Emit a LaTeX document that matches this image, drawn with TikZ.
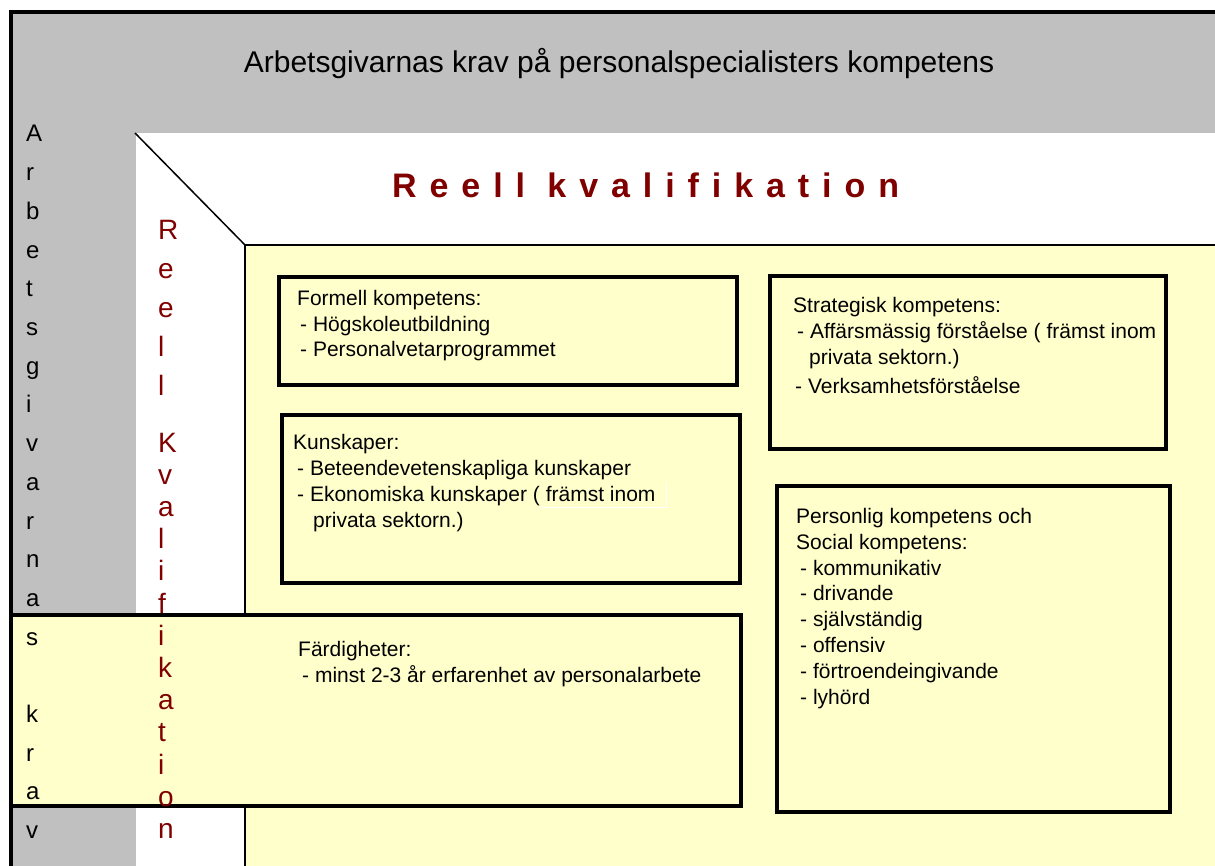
\documentclass[tikz,border=0pt]{standalone}
\usepackage{fontspec}
\setmainfont{Liberation Sans}
\newfontfamily\widefont[LetterSpace=38]{Liberation Sans}
\usepackage{tikz}
\definecolor{band}{HTML}{C0C0C0}
\definecolor{paper}{HTML}{FFFFCC}
\definecolor{wine}{HTML}{800000}
\tikzset{
  frame/.style={draw=black, line width=4.5pt},
  edge/.style={draw=black, line width=2.5pt},
  panel/.style={draw=black, line width=3.5pt, fill=paper},
  txt/.style={anchor=base west, inner sep=0pt, align=left, font=\fontsize{21}{25.8}\selectfont},
  vlet/.style={anchor=base west, inner sep=0pt, font=\fontsize{24}{24}\selectfont},
  rlet/.style={anchor=base west, inner sep=0pt, text=wine, font=\fontsize{28}{28}\selectfont},
}

\begin{document}
\begin{tikzpicture}[x=1pt, y=-1pt]
  \useasboundingbox (0,0) rectangle (1215,866);
  \fill[band] (13,14) rectangle (1215,866);
  \fill[white] (136,133) rectangle (1215,866);
  \fill[paper] (245,245) rectangle (1215,866);
  \draw[edge] (245,866) -- (245,245) -- (1215,245);
  \draw[line width=1.5pt] (135,133) -- (245,245);
  \draw[frame] (11,866) -- (11,12) -- (1215,12);

  \node[anchor=base, inner sep=0pt, font=\fontsize{30}{30}\selectfont] (head) at (619,73)
    {Arbetsgivarnas krav på personalspecialisters kompetens};
  \node[anchor=base west, inner sep=0pt, text=wine, font=\fontsize{34}{34}\widefont\bfseries] (reell) at (392,198)
    {Reell kvalifikation};

  \draw[panel] (279,277) rectangle (737,385);
  \draw[panel] (282,415) rectangle (740,583);
  \draw[panel] (770,276) rectangle (1166,449);
  \draw[panel] (777,486) rectangle (1170,812);
  \draw[panel] (11,615) rectangle (741,806);

  \node[txt] (formell) at (297,357)
    {Formell kompetens:\\\hspace{3pt}- Högskoleutbildning\\\hspace{3pt}- Personalvetarprogrammet};
  \node[txt] (kunskap) at (293,527)
    {Kunskaper:\\\hspace{4pt}- Beteendevetenskapliga kunskaper\\\hspace{4pt}- Ekonomiska kunskaper ( främst inom\\\hspace{20pt}privata sektorn.)};
  \draw[white, line width=1pt] (539,507) -- (666,507) -- (666,482);
  \node[txt] (strategi) at (793,393)
    {Strategisk kompetens:\\\hspace{4pt}- Affärsmässig förståelse ( främst inom\\\hspace{16pt}privata sektorn.)\\[3pt]\hspace{2pt}- Verksamhetsförståelse};
  \node[txt] (personlig) at (796,704)
    {Personlig kompetens och\\Social kompetens:\\\hspace{4pt}- kommunikativ\\\hspace{4pt}- drivande\\\hspace{4pt}- självständig\\\hspace{4pt}- offensiv\\\hspace{4pt}- förtroendeingivande\\\hspace{4pt}- lyhörd};
  \node[txt] (fardig) at (298,682)
    {Färdigheter:\\\hspace{4pt}- minst 2-3 år erfarenhet av personalarbete};

  \foreach \ch/\k in {A/0,r/1,b/2,e/3,t/4,s/5,g/6,i/7,v/8,a/9,r/10,n/11,a/12,s/13,k/15,r/16,a/17,v/18}
    \node[vlet] (lv\k) at (26,{142+38.7*\k}) {\ch};
  \foreach \ch/\k in {R/0,e/1,e/2,l/3,l/4}
    \node[rlet] (rv\k) at (158,{240+38.8*\k}) {\ch};
  \foreach \ch/\k in {K/0,v/1,a/2,l/3,i/4,f/5,i/6,k/7,a/8,t/9,i/10,o/11,n/12}
    \node[rlet] (rk\k) at (158,{452+32.2*\k}) {\ch};
\end{tikzpicture}
\end{document}
